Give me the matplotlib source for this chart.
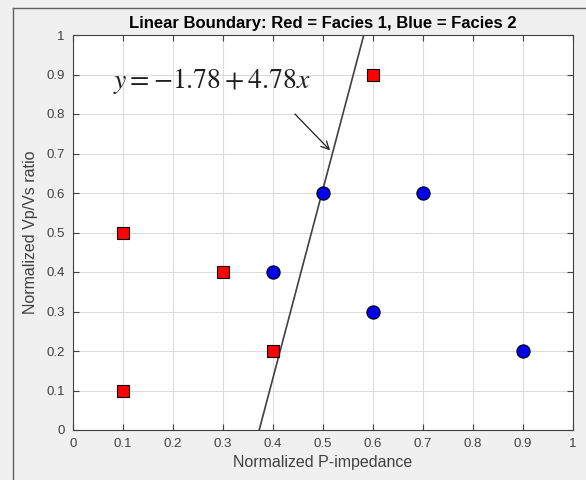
import matplotlib
matplotlib.use("Agg")
import matplotlib.pyplot as plt
from matplotlib.lines import Line2D
import numpy as np

plt.rcParams['font.family'] = ['Liberation Sans', 'DejaVu Sans']
plt.rcParams['mathtext.fontset'] = 'stix'

# facies 1 (red squares) and facies 2 (blue circles)
red_x = [0.1, 0.1, 0.3, 0.4, 0.6]
red_y = [0.1, 0.5, 0.4, 0.2, 0.9]
blue_x = [0.4, 0.5, 0.6, 0.7, 0.9]
blue_y = [0.4, 0.6, 0.3, 0.6, 0.2]

# boundary y = b0 + b1 * x
b0 = -1.78
b1 = 4.78

ticks = [0, 0.1, 0.2, 0.3, 0.4, 0.5, 0.6, 0.7, 0.8, 0.9, 1]
tick_labels = ['0', '0.1', '0.2', '0.3', '0.4', '0.5', '0.6', '0.7', '0.8', '0.9', '1']

fig = plt.figure(figsize=(5.86, 4.8), dpi=100, facecolor='#f0f0f0')
ax = fig.add_axes([73 / 586, 50 / 480, 500 / 586, 395 / 480])

ax.grid(True, color='#dcdcdc', linewidth=0.8)
ax.set_axisbelow(True)

xs = np.linspace(0, 1, 200)
ax.plot(xs, b0 + b1 * xs, color='#404040', linewidth=1.2)

ax.plot(red_x, red_y, 's', color='red', markeredgecolor='black',
        markersize=9, markeredgewidth=0.8, linestyle='none')
ax.plot(blue_x, blue_y, 'o', color='#0000ee', markeredgecolor='black',
        markersize=9.5, markeredgewidth=0.8, linestyle='none')

ax.annotate('', xy=(0.518, 0.703), xytext=(0.44, 0.805),
            arrowprops=dict(arrowstyle='->', color='#202020', lw=0.9,
                            mutation_scale=14))
ax.text(0.08, 0.865, r'$y=-1.78+4.78x$', fontsize=20, color='#202020')

ax.set_xlim(0, 1)
ax.set_ylim(0, 1)
ax.set_xticks(ticks)
ax.set_xticklabels(tick_labels)
ax.set_yticks(ticks)
ax.set_yticklabels(tick_labels)
ax.tick_params(direction='in', top=True, right=True, length=4,
               labelsize=9.5, labelcolor='#404040', color='#404040', pad=6)
for s in ax.spines.values():
    s.set_color('#404040')
    s.set_linewidth(0.8)

ax.set_title('Linear Boundary: Red = Facies 1, Blue = Facies 2',
             fontsize=12, fontweight='bold', pad=5)
ax.set_xlabel('Normalized P-impedance', fontsize=11.5, color='#404040', labelpad=3)
ax.set_ylabel('Normalized Vp/Vs ratio', fontsize=11.5, color='#404040', labelpad=6)

# window frame on the left and top
fig.add_artist(Line2D([13 / 586, 13 / 586], [0, 1 - 8 / 480],
                      transform=fig.transFigure, color='#606060', linewidth=1))
fig.add_artist(Line2D([13 / 586, 1], [1 - 8 / 480, 1 - 8 / 480],
                      transform=fig.transFigure, color='#606060', linewidth=1))

fig.savefig('out.png', dpi=100, facecolor=fig.get_facecolor())
